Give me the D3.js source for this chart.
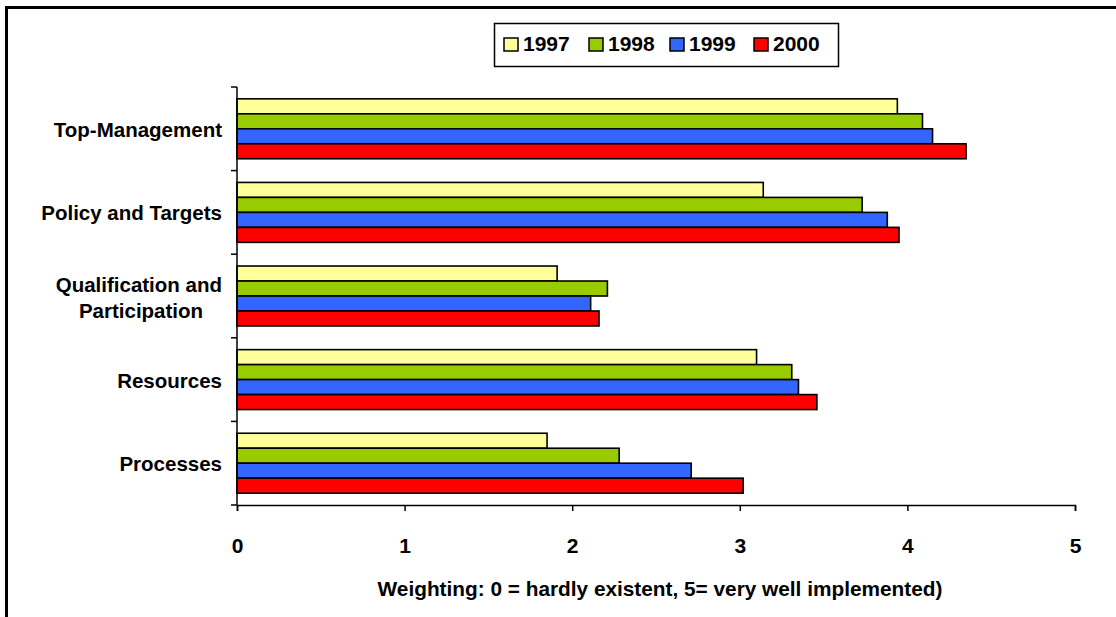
<!DOCTYPE html>
<html>
<head>
<meta charset="utf-8">
<script src="https://cdn.jsdelivr.net/npm/d3@7"></script>
<style>
  html, body { margin: 0; padding: 0; background: #fff; }
  svg { display: block; }
  text { font-family: "Liberation Sans", Arial, sans-serif; font-weight: bold; fill: #000; }
</style>
</head>
<body>
<svg id="chart" width="1116" height="617"></svg>
<script>
const categories = ["Top-Management", "Policy and Targets", "Qualification and Participation", "Resources", "Processes"];
const series = ["1997", "1998", "1999", "2000"];
const values1997 = [3.94, 3.14, 1.91, 3.10, 1.85];
const values1998 = [4.09, 3.73, 2.21, 3.31, 2.28];
const values1999 = [4.15, 3.88, 2.11, 3.35, 2.71];
const values2000 = [4.35, 3.95, 2.16, 3.46, 3.02];
const xTicks = [0, 1, 2, 3, 4, 5];
const colors = ["#FFFF99", "#99CC00", "#3366FF", "#FF0000"];
const xTitle = "Weighting: 0 = hardly existent, 5= very well implemented)";

const allValues = [values1997, values1998, values1999, values2000];

const svg = d3.select("#chart");

// frame
svg.append("path")
  .attr("d", "M6.5,617 L6.5,7.5 L1116,7.5")
  .attr("fill", "none").attr("stroke", "#000").attr("stroke-width", 3);

const x = d3.scaleLinear().domain([0, 5]).range([237, 1075]);
const y = d3.scaleBand().domain(categories).range([87, 505]).paddingInner(0).paddingOuter(0);
const yInner = d3.scaleBand().domain(series).range([0, y.bandwidth()]).paddingInner(0).paddingOuter(0.79);

// bars
const groups = svg.append("g").selectAll("g")
  .data(categories).join("g")
  .attr("transform", d => `translate(0,${y(d)})`);

groups.selectAll("rect")
  .data((c, ci) => series.map((s, si) => ({ s, si, v: allValues[si][ci] })))
  .join("rect")
  .attr("x", x(0))
  .attr("y", d => yInner(d.s))
  .attr("width", d => x(d.v) - x(0))
  .attr("height", yInner.bandwidth())
  .attr("fill", d => colors[d.si])
  .attr("stroke", "#000")
  .attr("stroke-width", 1.6);

// x axis
const xAxis = svg.append("g")
  .attr("transform", `translate(0,505)`)
  .call(d3.axisBottom(x).tickValues(xTicks).tickFormat(d3.format("d")).tickSize(6).tickSizeOuter(6));
xAxis.select(".domain").attr("stroke", "#000").attr("stroke-width", 1.5);
xAxis.selectAll(".tick line").attr("stroke", "#000").attr("stroke-width", 1.5);
xAxis.selectAll(".tick text").attr("font-size", 21).attr("dy", null).attr("y", 48)
  .style("font-family", "'Liberation Sans', Arial, sans-serif").style("font-weight", "bold");

// y axis with ticks at category boundaries
const yAxis = svg.append("g").attr("transform", "translate(237,0)");
yAxis.append("line").attr("x1", 0).attr("x2", 0).attr("y1", 87).attr("y2", 505)
  .attr("stroke", "#000").attr("stroke-width", 1.5);
const boundaries = categories.map(c => y(c)).concat([y(categories[categories.length - 1]) + y.bandwidth()]);
yAxis.selectAll("line.tk").data(boundaries).join("line").attr("class", "tk")
  .attr("x1", -6).attr("x2", 0).attr("y1", d => d).attr("y2", d => d)
  .attr("stroke", "#000").attr("stroke-width", 1.5);

// category labels
categories.forEach(c => {
  const cy = y(c) + y.bandwidth() / 2;
  if (c === "Qualification and Participation") {
    const t = svg.append("text").attr("font-size", 20.5);
    t.append("tspan").attr("x", 222).attr("y", cy - 4).attr("text-anchor", "end").text("Qualification and");
    t.append("tspan").attr("x", 141).attr("y", cy + 22).attr("text-anchor", "middle").text("Participation");
  } else {
    svg.append("text").attr("font-size", 20.5).attr("text-anchor", "end")
      .attr("x", 222).attr("y", cy + 8).text(c);
  }
});

// x title
svg.append("text").attr("font-size", 20.8).attr("text-anchor", "middle")
  .attr("x", 660).attr("y", 596).text(xTitle);

// legend
const legend = svg.append("g");
legend.append("rect").attr("x", 494.5).attr("y", 23.5).attr("width", 344).attr("height", 43)
  .attr("fill", "#fff").attr("stroke", "#000").attr("stroke-width", 1.5);
const legX = [504, 589, 670, 754];
series.forEach((s, i) => {
  legend.append("rect").attr("x", legX[i]).attr("y", 38).attr("width", 14).attr("height", 13)
    .attr("fill", colors[i]).attr("stroke", "#000").attr("stroke-width", 1.5);
  legend.append("text").attr("font-size", 21).attr("x", legX[i] + 19).attr("y", 51).text(s);
});
</script>
</body>
</html>
